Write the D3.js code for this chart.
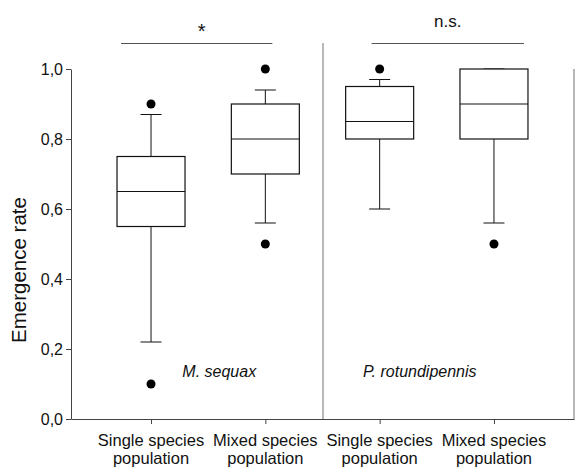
<!DOCTYPE html>
<html>
<head>
<meta charset="utf-8">
<script src="https://cdn.jsdelivr.net/npm/d3@7"></script>
<style>
  html, body { margin: 0; padding: 0; background: #fff; }
  svg { display: block; font-family: "Liberation Sans", Arial, sans-serif; }
</style>
</head>
<body>
<svg id="chart" width="579" height="467"></svg>
<script>
// ---- data ----
const categories = ["Single species population (M)", "Mixed species population (M)", "Single species population (P)", "Mixed species population (P)"];
const categoryLabels = [["Single species", "population"], ["Mixed species", "population"], ["Single species", "population"], ["Mixed species", "population"]];
const whiskerLow  = [0.22, 0.56, 0.60, 0.56];
const q1          = [0.55, 0.70, 0.80, 0.80];
const median      = [0.65, 0.80, 0.85, 0.90];
const q3          = [0.75, 0.90, 0.95, 1.00];
const whiskerHigh = [0.87, 0.94, 0.97, 1.00];
const outliers    = [[0.10, 0.90], [0.50, 1.00], [1.00], [0.50]];
const yTicks = [0, 0.2, 0.4, 0.6, 0.8, 1.0];
const speciesNames = ["M. sequax", "P. rotundipennis"];
const significance = ["*", "n.s."];

// ---- layout ----
const svg = d3.select("#chart");
const mLeft = 71, mRight = 574, mTop = 69, mBottom = 419;

const x = d3.scalePoint().domain(categories).range([mLeft, mRight]).padding(0.7);
const y = d3.scaleLinear().domain([0, 1]).range([mBottom, mTop]);
const fmt = v => d3.format(".1f")(v).replace(".", ",");

const axisColor = "#444";
const lightColor = "#888";

// y axis
const yAxis = svg.append("g").attr("transform", `translate(${mLeft},0)`)
  .call(d3.axisLeft(y).tickValues(yTicks).tickFormat(fmt).tickSize(5).tickSizeOuter(0));
yAxis.select(".domain").attr("stroke", axisColor);
yAxis.selectAll(".tick line").attr("stroke", axisColor);
yAxis.selectAll(".tick text").attr("font-size", 16).attr("fill", "#111")
  .attr("font-family", "Liberation Sans, Arial, sans-serif").attr("x", -8);

// x axis
const xAxis = svg.append("g").attr("transform", `translate(0,${mBottom})`)
  .call(d3.axisBottom(x).tickSize(5).tickSizeOuter(0).tickFormat(""));
xAxis.select(".domain").attr("stroke", axisColor);
xAxis.selectAll(".tick line").attr("stroke", axisColor);

// category labels
categories.forEach((c, i) => {
  const t = svg.append("text").attr("x", x(c)).attr("y", 446)
    .attr("text-anchor", "middle").attr("font-size", 16.5).attr("fill", "#111");
  categoryLabels[i].forEach((line, j) => {
    t.append("tspan").attr("x", x(c)).attr("dy", j === 0 ? 0 : 18).text(line);
  });
});

// right frame line & divider
svg.append("line").attr("x1", mRight).attr("x2", mRight).attr("y1", y(1)).attr("y2", mBottom)
  .attr("stroke", lightColor).attr("stroke-width", 1.2);
const divX = (x(categories[1]) + x(categories[2])) / 2 + 0.5;
svg.append("line").attr("x1", divX).attr("x2", divX).attr("y1", 43).attr("y2", mBottom)
  .attr("stroke", lightColor).attr("stroke-width", 1.2);

// y axis title
svg.append("text").attr("transform", `translate(26,${(mTop + mBottom) / 2 + 26}) rotate(-90)`)
  .attr("text-anchor", "middle").attr("font-size", 20.5).attr("fill", "#111").text("Emergence rate");

// boxes
const boxW = 68, capW = 21;
const g = svg.append("g");
categories.forEach((c, i) => {
  const cx = x(c);
  g.append("line").attr("x1", cx).attr("x2", cx).attr("y1", y(q3[i])).attr("y2", y(whiskerHigh[i])).attr("stroke", "#111");
  g.append("line").attr("x1", cx).attr("x2", cx).attr("y1", y(q1[i])).attr("y2", y(whiskerLow[i])).attr("stroke", "#111");
  g.append("line").attr("x1", cx - capW / 2).attr("x2", cx + capW / 2).attr("y1", y(whiskerHigh[i])).attr("y2", y(whiskerHigh[i])).attr("stroke", "#111");
  g.append("line").attr("x1", cx - capW / 2).attr("x2", cx + capW / 2).attr("y1", y(whiskerLow[i])).attr("y2", y(whiskerLow[i])).attr("stroke", "#111");
  g.append("rect").attr("x", cx - boxW / 2).attr("y", y(q3[i])).attr("width", boxW)
    .attr("height", y(q1[i]) - y(q3[i])).attr("fill", "#fff").attr("stroke", "#111").attr("stroke-width", 1.2);
  g.append("line").attr("x1", cx - boxW / 2).attr("x2", cx + boxW / 2).attr("y1", y(median[i])).attr("y2", y(median[i]))
    .attr("stroke", "#111").attr("stroke-width", 1.2);
  outliers[i].forEach(v => {
    g.append("circle").attr("cx", cx).attr("cy", y(v)).attr("r", 4.5).attr("fill", "#000");
  });
});

// species names
svg.append("text").attr("x", x(categories[1]) - 83).attr("y", 377).attr("font-size", 16)
  .attr("font-style", "italic").attr("fill", "#111").text(speciesNames[0]);
svg.append("text").attr("x", divX + 40).attr("y", 377).attr("font-size", 16)
  .attr("font-style", "italic").attr("fill", "#111").text(speciesNames[1]);

// significance bars
const sigPairs = [[0, 1, -30, 7], [2, 3, -8, 30]];
sigPairs.forEach(([a, b, pa, pb], k) => {
  const x1 = x(categories[a]) + pa, x2 = x(categories[b]) + pb;
  svg.append("line").attr("x1", x1).attr("x2", x2).attr("y1", 43.5).attr("y2", 43.5)
    .attr("stroke", "#555").attr("stroke-width", 1.2);
  svg.append("text").attr("x", (x1 + x2) / 2 + (k === 0 ? 5 : 0)).attr("y", k === 0 ? 38 : 27)
    .attr("text-anchor", "middle").attr("font-size", k === 0 ? 20 : 17).attr("fill", "#111")
    .text(significance[k]);
});
</script>
</body>
</html>
